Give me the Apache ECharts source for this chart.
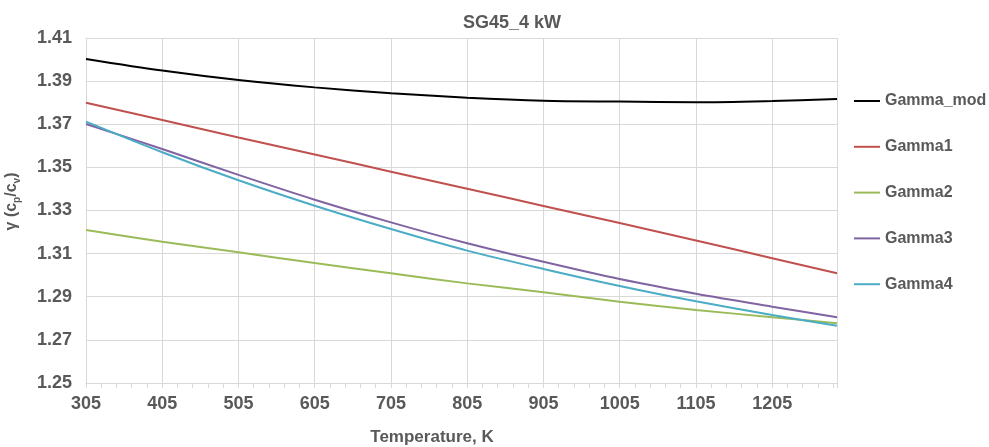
<!DOCTYPE html>
<html>
<head>
<meta charset="utf-8">
<title>SG45_4 kW</title>
<script src="https://cdn.jsdelivr.net/npm/echarts@6/dist/echarts.min.js"></script>
<style>
  html, body { margin: 0; padding: 0; background: #fff; }
  #main { width: 989px; height: 447px; }
</style>
</head>
<body>
<div id="main"></div>
<script>
// temperatures (K)
const temps = [305, 405, 505, 605, 705, 805, 905, 1005, 1105, 1205, 1290];

const gammaMod = [1.4003, 1.3949, 1.3905, 1.3871, 1.3844, 1.3823, 1.3809, 1.3805, 1.3802, 1.3808, 1.3817];
const gamma1   = [1.3800, 1.3720, 1.3639, 1.3560, 1.3480, 1.3401, 1.3321, 1.3242, 1.3161, 1.3079, 1.3009];
const gamma2   = [1.3210, 1.3155, 1.3106, 1.3056, 1.3009, 1.2962, 1.2921, 1.2877, 1.2839, 1.2805, 1.2777];
const gamma3   = [1.3701, 1.3585, 1.3465, 1.3350, 1.3245, 1.3148, 1.3062, 1.2982, 1.2914, 1.2854, 1.2805];
const gamma4   = [1.3712, 1.3570, 1.3440, 1.3322, 1.3214, 1.3114, 1.3029, 1.2950, 1.2879, 1.2815, 1.2766];

const names  = ['Gamma_mod', 'Gamma1', 'Gamma2', 'Gamma3', 'Gamma4'];
const colors = ['#000000', '#c0504d', '#9bbb59', '#8064a2', '#4bacc6'];

function pairs(vals) {
  return temps.map((t, i) => [t, vals[i]]);
}

const chart = echarts.init(document.getElementById('main'), null, { renderer: 'canvas' });
const txt = '#595959';
const ff = 'Liberation Sans, Arial, sans-serif';

const option = {
  animation: false,
  backgroundColor: '#fff',
  title: {
    text: 'SG45_4 kW',
    left: 507,
    top: 9,
    textAlign: 'center',
    textStyle: { fontFamily: ff, fontSize: 18, fontWeight: 'bold', color: txt }
  },
  legend: {
    orient: 'vertical',
    left: 849,
    top: 88,
    itemGap: 29.8,
    itemWidth: 26,
    itemHeight: 2,
    icon: 'rect',
    textStyle: { fontFamily: ff, fontSize: 16, fontWeight: 'bold', color: txt },
    data: names
  },
  grid: { left: 86, right: 152, top: 38, bottom: 64, outerBoundsMode: 'none', containLabel: false },
  xAxis: {
    type: 'value',
    min: 305,
    max: 1290,
    interval: 100,
    name: 'Temperature, K',
    nameLocation: 'middle',
    nameGap: 46,
    nameTextStyle: { fontFamily: ff, fontSize: 17, fontWeight: 'bold', color: txt, padding: [0, 59, 0, 0] },
    axisLine: { lineStyle: { color: '#d9d9d9' } },
    axisTick: { show: true, length: 5, lineStyle: { color: '#d9d9d9' } },
    minorTick: { show: true, splitNumber: 5, length: 5, lineStyle: { color: '#d9d9d9' } },
    axisLabel: {
      fontFamily: ff, fontSize: 18, fontWeight: 'bold', color: txt, margin: 12, showMaxLabel: false,
      formatter: v => String(v)
    },
    splitLine: { show: true, lineStyle: { color: '#d9d9d9' } }
  },
  yAxis: {
    type: 'value',
    min: 1.25,
    max: 1.41,
    interval: 0.02,
    name: '{g|γ (c}{s|p}{g|/c}{s|v}{g|)}',
    nameLocation: 'middle',
    nameGap: 64,
    nameRotate: 90,
    nameTextStyle: {
      padding: [0, 0, 0, 18],
      rich: {
        g: { fontFamily: ff, fontSize: 16, fontWeight: 'bold', color: txt, lineHeight: 20, verticalAlign: 'middle' },
        s: { fontFamily: ff, fontSize: 10, fontWeight: 'bold', color: txt, lineHeight: 20, verticalAlign: 'bottom' }
      }
    },
    axisLine: { show: false },
    axisTick: { show: false },
    axisLabel: {
      fontFamily: ff, fontSize: 18, fontWeight: 'bold', color: txt, margin: 14,
      formatter: v => v.toFixed(2)
    },
    splitLine: { lineStyle: { color: '#d9d9d9' } }
  },
  series: [gammaMod, gamma1, gamma2, gamma3, gamma4].map((vals, i) => ({
    name: names[i],
    type: 'line',
    smooth: 0.3,
    showSymbol: false,
    data: pairs(vals),
    itemStyle: { color: colors[i] },
    lineStyle: { color: colors[i], width: 2 }
  }))
};

chart.setOption(option);
</script>
</body>
</html>
